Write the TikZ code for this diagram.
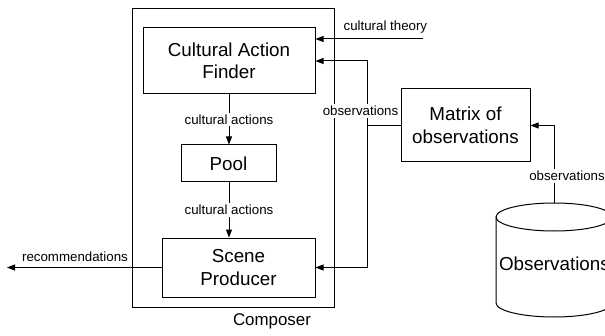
\documentclass[tikz,border=0pt]{standalone}
\usepackage{fontspec}
\setmainfont{Liberation Sans}
\usetikzlibrary{positioning,arrows.meta}

\begin{document}
\begin{tikzpicture}[x=1pt,y=1pt,line width=1pt,
    block/.style={draw, align=center, inner sep=0pt, font=\fontsize{18.8}{22.5}\selectfont},
    lbl/.style={font=\fontsize{13.3}{15}\selectfont, inner sep=1pt},
    flow/.style={-{Triangle[length=8pt,width=6pt]}}]
    \useasboundingbox (0,0) rectangle (605,335);
    \clip (0,0) rectangle (605,335);

    % Composer
    \draw (132,28) rectangle (334,326);
    \node[font=\fontsize{16.9}{20}\selectfont] (composer) at (272,14) {Composer};

    % Blocks
    \node[block, minimum width=172, minimum height=66] (finder) at (229,274) {Cultural Action\\Finder};
    \node[block, minimum width=95, minimum height=37] (pool) at (228.5,171.5) {Pool};
    \node[block, minimum width=153, minimum height=59] (producer) at (238.5,67.5) {Scene\\Producer};
    \node[block, minimum width=129, minimum height=73] (matrix) at (465.5,209.5) {Matrix of\\observations};

    % Database
    \draw (496,118) -- (496,32) arc[start angle=180, end angle=360, x radius=58, y radius=14] -- (612,118);
    \draw (554,118) ellipse [x radius=58, y radius=14];
    \node[block, draw=none] (obsdb) at (554.4,71) {Observations};
    \coordinate (dbtop) at (554,132);

    % Internal flow
    \draw[flow] (finder.south) -- node[lbl, fill=white, inner sep=2pt] {cultural actions} (finder.south |- pool.north);
    \draw[flow] (finder.south |- pool.south) -- node[lbl, fill=white, inner sep=2pt] {cultural actions} (finder.south |- producer.north);

    % Inputs and outputs
    \coordinate (theory) at (423,296);
    \draw[flow] (theory) -- node[lbl, pos=0.35, above=4pt] {cultural theory} (theory -| finder.east);
    \coordinate (recout) at (7,67.5);
    \draw[flow] (producer.west) -- node[lbl, pos=0.56, above=4pt] {recommendations} (recout);
    \coordinate (split) at (367,209.5);
    \draw[flow] (matrix.west) -- (split) |- (finder.east);
    \draw[flow] (split) |- (producer.east);
    \node[lbl, fill=white, inner sep=2pt] (obslbl) at (360.5,224) {observations};
    \draw[flow] (dbtop) |- (matrix.east);
    \node[lbl, fill=white, inner sep=2pt] (dblbl) at (567,159) {observations};
\end{tikzpicture}
\end{document}
